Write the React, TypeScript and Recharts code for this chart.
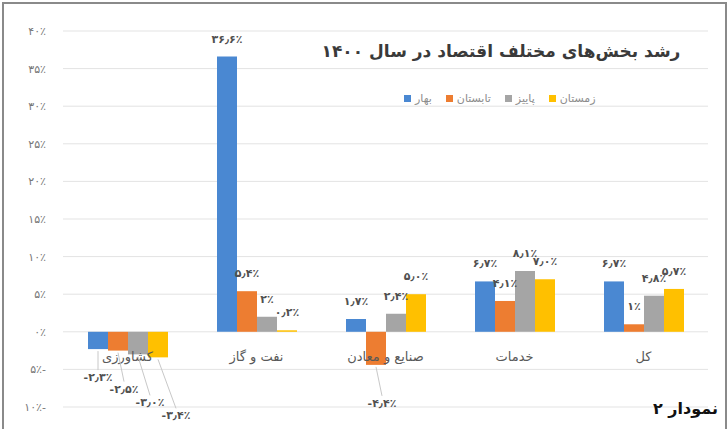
import { BarChart, Bar, XAxis, YAxis, CartesianGrid, LabelList } from "recharts"

const categories = ["کشاورزی", "نفت و گاز", "صنایع و معادن", "خدمات", "کل"]
const seriesNames = ["بهار", "تابستان", "پاییز", "زمستان"]
const seriesColors = ["#4a88d2", "#ed7d31", "#a5a5a5", "#ffc000"]

const spring = [-2.3, 36.6, 1.7, 6.7, 6.7]
const summer = [-2.5, 5.4, -4.4, 4.1, 1]
const autumn = [-3.0, 2, 2.4, 8.1, 4.8]
const winter = [-3.4, 0.2, 5.0, 7.0, 5.7]

const springLabels = ["-۲٫۳٪", "۳۶٫۶٪", "۱٫۷٪", "۶٫۷٪", "۶٫۷٪"]
const summerLabels = ["-۲٫۵٪", "۵٫۴٪", "-۴٫۴٪", "۴٫۱٪", "۱٪"]
const autumnLabels = ["-۳٫۰٪", "۲٪", "۲٫۴٪", "۸٫۱٪", "۴٫۸٪"]
const winterLabels = ["-۳٫۴٪", "۰٫۲٪", "۵٫۰٪", "۷٫۰٪", "۵٫۷٪"]

const yTicks = [-10, -5, 0, 5, 10, 15, 20, 25, 30, 35, 40]

const W = 727
const H = 429
const PLOT_TOP = 31
const PLOT_BOTTOM = 407
const Y_MIN = -10
const Y_MAX = 40
const ZERO_Y = PLOT_TOP + ((PLOT_BOTTOM - PLOT_TOP) * Y_MAX) / (Y_MAX - Y_MIN)
const FONT = "'DejaVu Sans', sans-serif"

const data = categories.map((name, i) => ({
  name,
  s0: spring[i],
  s1: summer[i],
  s2: autumn[i],
  s3: winter[i],
}))
const allLabels = [springLabels, summerLabels, autumnLabels, winterLabels]

const toFa = (s: string) => s.replace(/\d/g, (d) => "۰۱۲۳۴۵۶۷۸۹"[+d])

function YTick(props: any) {
  const { x, y, payload } = props
  const v = payload.value as number
  const txt = v < 0 ? toFa(String(-v)) + "٪-" : toFa(String(v)) + "٪"
  return (
    <text x={x} y={y} dy={4} textAnchor="end" fill="#767676" fontSize={11} fontFamily={FONT} direction="ltr">
      {txt}
    </text>
  )
}

function XTick(props: any) {
  const { x, payload } = props
  return (
    <text x={x} y={ZERO_Y + 29} textAnchor="middle" fill="#595959" fontSize={13} fontFamily={FONT}>
      {payload.value}
    </text>
  )
}

const makeLabel = (si: number) => (props: any) => {
  const { x, y, width, height, index } = props
  const txt = allLabels[si][index]
  const cx = x + width / 2
  const top = Math.min(y, y + height)
  const bottom = Math.max(y, y + height)
  const neg = data[index][("s" + si) as "s0"] < 0
  if (neg) {
    const dx = si * 6
    const base = bottom + 32 + si * 10
    return (
      <g>
        <line x1={cx} y1={bottom + 2} x2={cx + dx} y2={base - 11} stroke="#c8c8c8" strokeWidth={1} />
        <text x={cx + dx} y={base} textAnchor="middle" fill="#505050" fontSize={11} fontWeight="bold" fontFamily={FONT} direction="ltr">
          {txt}
        </text>
      </g>
    )
  }
  return (
    <text x={cx} y={top - 14} textAnchor="middle" fill="#505050" fontSize={11} fontWeight="bold" fontFamily={FONT} direction="ltr">
      {txt}
    </text>
  )
}

export default function App() {
  return (
    <div style={{ position: "relative", width: W, height: H, background: "#fff", overflow: "hidden" }}>
      <style>{`body{margin:0}`}</style>
      <div
        style={{
          position: "absolute", left: 2, top: 2, width: W - 6, height: H - 2,
          borderTop: "2px solid #8a8a8a", borderLeft: "2px solid #8a8a8a", borderRight: "2px solid #8a8a8a",
        }}
      />
      <BarChart
        width={W}
        height={H}
        data={data}
        margin={{ top: PLOT_TOP, right: 19, bottom: H - PLOT_BOTTOM - 20, left: 13 }}
        barGap={0}
        barSize={20}
      >
        <CartesianGrid vertical={false} stroke="#e3e3e3" />
        <XAxis dataKey="name" height={20} axisLine={false} tickLine={false} tick={<XTick />} interval={0} />
        <YAxis
          width={50}
          domain={[Y_MIN, Y_MAX]}
          ticks={yTicks}
          interval={0}
          axisLine={false}
          tickLine={false}
          tickSize={0}
          tickMargin={17}
          tick={<YTick />}
        />
        {seriesNames.map((n, si) => (
          <Bar key={n} dataKey={"s" + si} name={n} fill={seriesColors[si]} isAnimationActive={false}>
            <LabelList dataKey={"s" + si} content={makeLabel(si)} />
          </Bar>
        ))}
      </BarChart>
      <div
        style={{
          position: "absolute", left: 291, top: 41, width: 420, textAlign: "center", whiteSpace: "nowrap",
          fontFamily: FONT, fontWeight: "bold", fontSize: 17, color: "#3a3a3a", direction: "rtl",
        }}
      >
        رشد بخش‌های مختلف اقتصاد در سال ۱۴۰۰
      </div>
      <div
        style={{
          position: "absolute", left: 404, top: 92, display: "flex", alignItems: "center", gap: 14,
          fontFamily: FONT, fontSize: 11, color: "#8c8c8c",
        }}
      >
        {seriesNames.map((n, si) => (
          <div key={n} style={{ display: "flex", alignItems: "center", gap: 4 }}>
            <span style={{ width: 7, height: 7, background: seriesColors[si], display: "inline-block" }} />
            <span style={{ direction: "rtl" }}>{n}</span>
          </div>
        ))}
      </div>
      <div
        style={{
          position: "absolute", right: 9, top: 399, fontFamily: FONT, fontWeight: "bold",
          fontSize: 16, color: "#111", direction: "rtl",
        }}
      >
        نمودار ۲
      </div>
    </div>
  )
}
